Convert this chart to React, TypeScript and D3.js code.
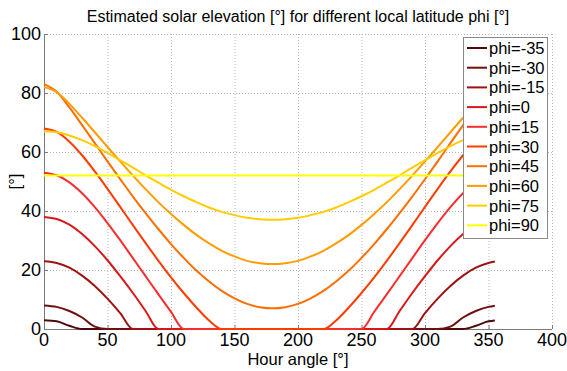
import * as d3 from "d3";

// hour angle samples [deg]
const hourAngle = [
  0, 10, 20, 30, 40, 50, 60, 70, 80, 90, 100, 110, 120, 130, 140, 150, 160, 170,
  180, 190, 200, 210, 220, 230, 240, 250, 260, 270, 280, 290, 300, 310, 320, 330,
  340, 350, 355,
];

// elevation [deg], clipped at 0
const phiM35 = [
  3.0, 2.6, 1.1, 0, 0, 0, 0, 0, 0, 0, 0, 0, 0, 0, 0, 0, 0, 0, 0, 0, 0, 0, 0, 0,
  0, 0, 0, 0, 0, 0, 0, 0, 0, 0, 1.1, 2.6, 2.9,
];
const phiM30 = [
  8.0, 7.5, 6.1, 3.9, 0.8, 0, 0, 0, 0, 0, 0, 0, 0, 0, 0, 0, 0, 0, 0, 0, 0, 0, 0,
  0, 0, 0, 0, 0, 0, 0, 0, 0, 0.8, 3.9, 6.1, 7.5, 7.9,
];
const phiM15 = [
  23.0, 22.4, 20.8, 18.1, 14.6, 10.3, 5.4, 0, 0, 0, 0, 0, 0, 0, 0, 0, 0, 0, 0, 0,
  0, 0, 0, 0, 0, 0, 0, 0, 0, 0, 5.4, 10.3, 14.6, 18.1, 20.8, 22.4, 22.9,
];
const phi0 = [
  38.0, 37.3, 35.4, 32.2, 28.1, 23.3, 17.9, 12.2, 6.1, 0, 0, 0, 0, 0, 0, 0, 0, 0,
  0, 0, 0, 0, 0, 0, 0, 0, 0, 0, 6.1, 12.2, 17.9, 23.3, 28.1, 32.2, 35.4, 37.3,
  37.8,
];
const phi15 = [
  53.0, 52.1, 49.7, 46.0, 41.3, 35.9, 30.1, 24.0, 17.9, 11.8, 5.8, 0, 0, 0, 0, 0,
  0, 0, 0, 0, 0, 0, 0, 0, 0, 0, 5.8, 11.8, 17.9, 24.0, 30.1, 35.9, 41.3, 46.0,
  49.7, 52.1, 52.8,
];
const phi30 = [
  68.0, 66.8, 63.5, 58.9, 53.4, 47.5, 41.4, 35.2, 29.1, 23.2, 17.5, 12.2, 7.3,
  2.9, 0, 0, 0, 0, 0, 0, 0, 0, 0, 2.9, 7.3, 12.2, 17.5, 23.2, 29.1, 35.2, 41.4,
  47.5, 53.4, 58.9, 63.5, 66.8, 67.7,
];
const phi45 = [
  83.0, 80.4, 75.1, 69.1, 63.0, 56.8, 50.8, 44.9, 39.3, 33.9, 28.8, 24.1, 19.8,
  16.1, 12.9, 10.4, 8.5, 7.4, 7.0, 7.4, 8.5, 10.4, 12.9, 16.1, 19.8, 24.1, 28.8,
  33.9, 39.3, 44.9, 50.8, 56.8, 63.0, 69.1, 75.1, 80.4, 82.3,
];
const phi60 = [
  82.0, 80.3, 76.3, 71.6, 66.7, 61.7, 56.8, 52.0, 47.4, 43.0, 39.0, 35.3, 31.9,
  29.0, 26.5, 24.6, 23.1, 22.3, 22.0, 22.3, 23.1, 24.6, 26.5, 29.0, 31.9, 35.3,
  39.0, 43.0, 47.4, 52.0, 56.8, 61.7, 66.7, 71.6, 76.3, 80.3, 81.5,
];
const phi75 = [
  67.0, 66.7, 65.6, 64.0, 62.0, 59.7, 57.2, 54.7, 52.1, 49.6, 47.2, 45.0, 43.0,
  41.2, 39.7, 38.6, 37.7, 37.2, 37.0, 37.2, 37.7, 38.6, 39.7, 41.2, 43.0, 45.0,
  47.2, 49.6, 52.1, 54.7, 57.2, 59.7, 62.0, 64.0, 65.6, 66.7, 66.9,
];
const phi90 = [
  52, 52, 52, 52, 52, 52, 52, 52, 52, 52, 52, 52, 52, 52, 52, 52, 52, 52, 52, 52,
  52, 52, 52, 52, 52, 52, 52, 52, 52, 52, 52, 52, 52, 52, 52, 52, 52,
];

const seriesNames = [
  "phi=-35", "phi=-30", "phi=-15", "phi=0", "phi=15",
  "phi=30", "phi=45", "phi=60", "phi=75", "phi=90",
];
const seriesValues = [phiM35, phiM30, phiM15, phi0, phi15, phi30, phi45, phi60, phi75, phi90];
const seriesColors = [
  "#4d0a0a", "#6e1010", "#a01212", "#d81818", "#f72e2e",
  "#ff3c00", "#ff6e00", "#ff9c00", "#ffcc00", "#ffff00",
];

const xTicks = [0, 50, 100, 150, 200, 250, 300, 350, 400];
const yTicks = [0, 20, 40, 60, 80, 100];

const W = 567;
const H = 371;
const FONT = "'Liberation Sans', Arial, sans-serif";

export default function App() {
  const x = d3.scaleLinear().domain([0, 400]).range([44, 552]);
  const y = d3.scaleLinear().domain([0, 100]).range([329, 34]);

  const line = d3
    .line<number>()
    .x((_, i) => x(hourAngle[i]))
    .y((d) => y(d))
    .curve(d3.curveMonotoneX);

  const legX = 463;
  const legY = 37;
  const legW = 84;
  const legH = 201;
  const rowH = 19.7;

  return (
    <svg
      width={W}
      height={H}
      style={{ position: "absolute", left: 0, top: 0, background: "#fff" }}
      fontFamily={FONT}
    >
      <rect width={W} height={H} fill="#fff" />

      {/* grid */}
      <g stroke="#b8b8b8" strokeWidth={1} strokeDasharray="1,2">
        {xTicks.slice(1).map((t) => (
          <line key={"gx" + t} x1={x(t) + 0.5} x2={x(t) + 0.5} y1={y(0)} y2={y(100)} />
        ))}
        {yTicks.slice(1).map((t) => (
          <line key={"gy" + t} x1={x(0)} x2={x(400)} y1={y(t) + 0.5} y2={y(t) + 0.5} />
        ))}
      </g>

      {/* axes */}
      <g stroke="#7a7a7a" strokeWidth={1}>
        <line x1={x(0)} x2={x(400)} y1={y(0) + 0.5} y2={y(0) + 0.5} />
        <line x1={x(0) + 0.5} x2={x(0) + 0.5} y1={y(0)} y2={y(100)} />
        {xTicks.map((t) => (
          <line key={"tx" + t} x1={x(t) + 0.5} x2={x(t) + 0.5} y1={y(0)} y2={y(0) - 4} />
        ))}
        {yTicks.map((t) => (
          <line key={"ty" + t} x1={x(0)} x2={x(0) + 4} y1={y(t) + 0.5} y2={y(t) + 0.5} />
        ))}
      </g>

      {/* curves */}
      <g fill="none" strokeWidth={2} strokeLinejoin="round">
        {seriesValues.map((vals, i) => (
          <path key={seriesNames[i]} d={line(vals) ?? ""} stroke={seriesColors[i]} />
        ))}
      </g>

      {/* tick labels */}
      <g fontSize={18} fill="#000">
        {xTicks.map((t) => (
          <text key={"lx" + t} x={x(t)} y={346} textAnchor="middle">
            {t}
          </text>
        ))}
        {yTicks.map((t) => (
          <text key={"ly" + t} x={41} y={y(t) + 6} textAnchor="end">
            {t}
          </text>
        ))}
      </g>

      {/* labels */}
      <text x={298} y={22} textAnchor="middle" fontSize={16}>
        Estimated solar elevation [°] for different local latitude phi [°]
      </text>
      <text x={298} y={365} textAnchor="middle" fontSize={16.5}>
        Hour angle [°]
      </text>
      <text
        transform={`translate(21,${(y(0) + y(100)) / 2}) rotate(-90)`}
        textAnchor="middle"
        fontSize={16.5}
      >
        [°]
      </text>

      {/* legend */}
      <g>
        <rect x={legX + 0.5} y={legY + 0.5} width={legW} height={legH} fill="#fff" stroke="#8a8a8a" />
        {seriesNames.map((name, i) => {
          const cy = legY + 11 + i * rowH;
          return (
            <g key={"lg" + name}>
              <line x1={legX + 4} x2={legX + 24} y1={cy} y2={cy} stroke={seriesColors[i]} strokeWidth={2} />
              <text x={legX + 26} y={cy + 6} fontSize={16.5}>
                {name}
              </text>
            </g>
          );
        })}
      </g>
    </svg>
  );
}
